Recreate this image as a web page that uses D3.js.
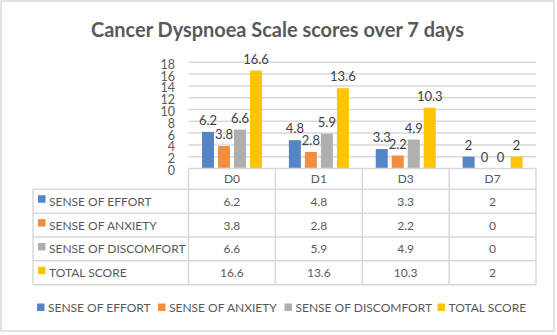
<!DOCTYPE html>
<html>
<head>
<meta charset="utf-8">
<script src="https://cdn.jsdelivr.net/npm/d3@7"></script>
<style>
  body { margin: 0; background: #fff; }
  text { font-family: Lato, "Open Sans", sans-serif; }
</style>
</head>
<body>
<div id="chart"></div>
<script>
const width = 557
const height = 335

const days = ["D0", "D1", "D3", "D7"]
const seriesNames = ["SENSE OF EFFORT", "SENSE OF ANXIETY", "SENSE OF DISCOMFORT", "TOTAL SCORE"]
const effort = [6.2, 4.8, 3.3, 2]
const anxiety = [3.8, 2.8, 2.2, 0]
const discomfort = [6.6, 5.9, 4.9, 0]
const total = [16.6, 13.6, 10.3, 2]
const yTicks = [0, 2, 4, 6, 8, 10, 12, 14, 16, 18]
const colors = ["#5585c5", "#f28e3d", "#afafaf", "#ffc403"]

const values = [effort, anxiety, discomfort, total]
const rows = seriesNames.map((name, i) => ({name, color: colors[i], vals: values[i]}))

const svg = d3.select("#chart").append("svg").attr("width", width).attr("height", height)

// chart frame
svg.append("rect")
    .attr("x", 1).attr("y", 1)
    .attr("width", 553).attr("height", 330)
    .attr("fill", "#fff").attr("stroke", "#d9d9d9").attr("stroke-width", 1.5)

const title = svg.append("text")
    .attr("x", 277.5).attr("y", 37)
    .attr("text-anchor", "middle")
    .attr("font-weight", "bold")
    .attr("font-size", 20)
    .attr("fill", "#595959")
    .text("Cancer Dyspnoea Scale scores over 7 days")
// shrink title to its target width
const tw = title.node().getComputedTextLength()
title.attr("font-size", 20 * 373 / tw)

const x = d3.scaleBand().domain(days).range([188.5, 536])
const x1 = d3.scaleBand().domain(seriesNames).range([13.5, 73.5]).paddingInner(0.25)
const y = d3.scaleLinear().domain([0, 18]).range([168.5, 62.3])

// gridlines
svg.append("g").selectAll("line").data(yTicks.slice(1))
    .join("line")
        .attr("x1", 188.5).attr("x2", 536)
        .attr("y1", d => y(d)).attr("y2", d => y(d))
        .attr("stroke", "#d9d9d9").attr("stroke-width", 1.5)

// y axis labels
const yAxis = d3.axisLeft(y).tickValues(yTicks).tickSize(0).tickPadding(0)
const yg = svg.append("g").attr("transform", "translate(175,2)").call(yAxis)
yg.select(".domain").remove()
yg.selectAll("text").attr("font-size", 12.5).attr("fill", "#595959")
    .style("font-family", "Lato, 'Open Sans', sans-serif")

// bars
const groups = svg.append("g").selectAll("g").data(days)
    .join("g")
        .attr("transform", d => `translate(${x(d)},0)`)

groups.selectAll("rect")
    .data((d, i) => rows.map(r => ({name: r.name, color: r.color, v: r.vals[i]})))
    .join("rect")
        .attr("x", d => x1(d.name))
        .attr("width", x1.bandwidth())
        .attr("y", d => y(d.v))
        .attr("height", d => y(0) - y(d.v))
        .attr("fill", d => d.color)

groups.selectAll("text")
    .data((d, i) => rows.map(r => ({name: r.name, v: r.vals[i]})))
    .join("text")
        .attr("x", d => x1(d.name) + x1.bandwidth() / 2)
        .attr("y", d => y(d.v) - 7)
        .attr("text-anchor", "middle")
        .attr("font-size", 13)
        .attr("fill", "#404040")
        .text(d => d.v)

// data table
const headerTop = 168.5
const headerH = 20.8
const rowH = 23.85
const tableLeft = 33
const tableRight = 536
const tableBottom = headerTop + headerH + rowH * rows.length
const lineColor = "#d9d9d9"
const table = svg.append("g")

// horizontal rules
table.append("line")
    .attr("x1", 188.5).attr("x2", tableRight)
    .attr("y1", headerTop).attr("y2", headerTop)
    .attr("stroke", lineColor).attr("stroke-width", 1.5)
table.selectAll(".hrule").data(d3.range(rows.length + 1))
    .join("line")
        .attr("class", "hrule")
        .attr("x1", tableLeft).attr("x2", tableRight)
        .attr("y1", i => headerTop + headerH + i * rowH)
        .attr("y2", i => headerTop + headerH + i * rowH)
        .attr("stroke", lineColor).attr("stroke-width", 1.5)

// vertical rules
table.append("line")
    .attr("x1", tableLeft).attr("x2", tableLeft)
    .attr("y1", headerTop + headerH).attr("y2", tableBottom)
    .attr("stroke", lineColor).attr("stroke-width", 1.5)
table.selectAll(".vrule").data(days.map(d => x(d)).concat([tableRight]))
    .join("line")
        .attr("class", "vrule")
        .attr("x1", d => d).attr("x2", d => d)
        .attr("y1", headerTop).attr("y2", tableBottom)
        .attr("stroke", lineColor).attr("stroke-width", 1.5)

// column headers
table.selectAll(".colhead").data(days)
    .join("text")
        .attr("class", "colhead")
        .attr("x", d => x(d) + x.bandwidth() / 2)
        .attr("y", headerTop + headerH / 2 + 4.5)
        .attr("text-anchor", "middle")
        .attr("font-size", 12)
        .attr("fill", "#595959")
        .text(d => d)

const tRows = table.selectAll(".trow").data(rows)
    .join("g")
        .attr("class", "trow")
        .attr("transform", (d, i) => `translate(0,${headerTop + headerH + i * rowH + rowH / 2})`)

tRows.append("rect")
    .attr("x", 38).attr("y", -6)
    .attr("width", 7.5).attr("height", 7.5)
    .attr("fill", d => d.color)
tRows.append("text")
    .attr("x", 49).attr("y", 4.5)
    .attr("font-size", 12)
    .attr("fill", "#595959")
    .text(d => d.name)
tRows.selectAll(".cell")
    .data(d => d.vals.map((v, i) => ({v, day: days[i]})))
    .join("text")
        .attr("class", "cell")
        .attr("x", d => x(d.day) + x.bandwidth() / 2)
        .attr("y", 4.5)
        .attr("text-anchor", "middle")
        .attr("font-size", 12)
        .attr("fill", "#595959")
        .text(d => d.v)

// legend
const legendX = [37, 158, 284.5, 437.5]
const legend = svg.append("g").selectAll("g").data(rows)
    .join("g")
        .attr("transform", (d, i) => `translate(${legendX[i]},307.5)`)
legend.append("rect")
    .attr("x", 0).attr("y", -4)
    .attr("width", 7.5).attr("height", 7.5)
    .attr("fill", d => d.color)
legend.append("text")
    .attr("x", 11).attr("y", 4.5)
    .attr("font-size", 12)
    .attr("fill", "#595959")
    .text(d => d.name)
</script>
</body>
</html>
